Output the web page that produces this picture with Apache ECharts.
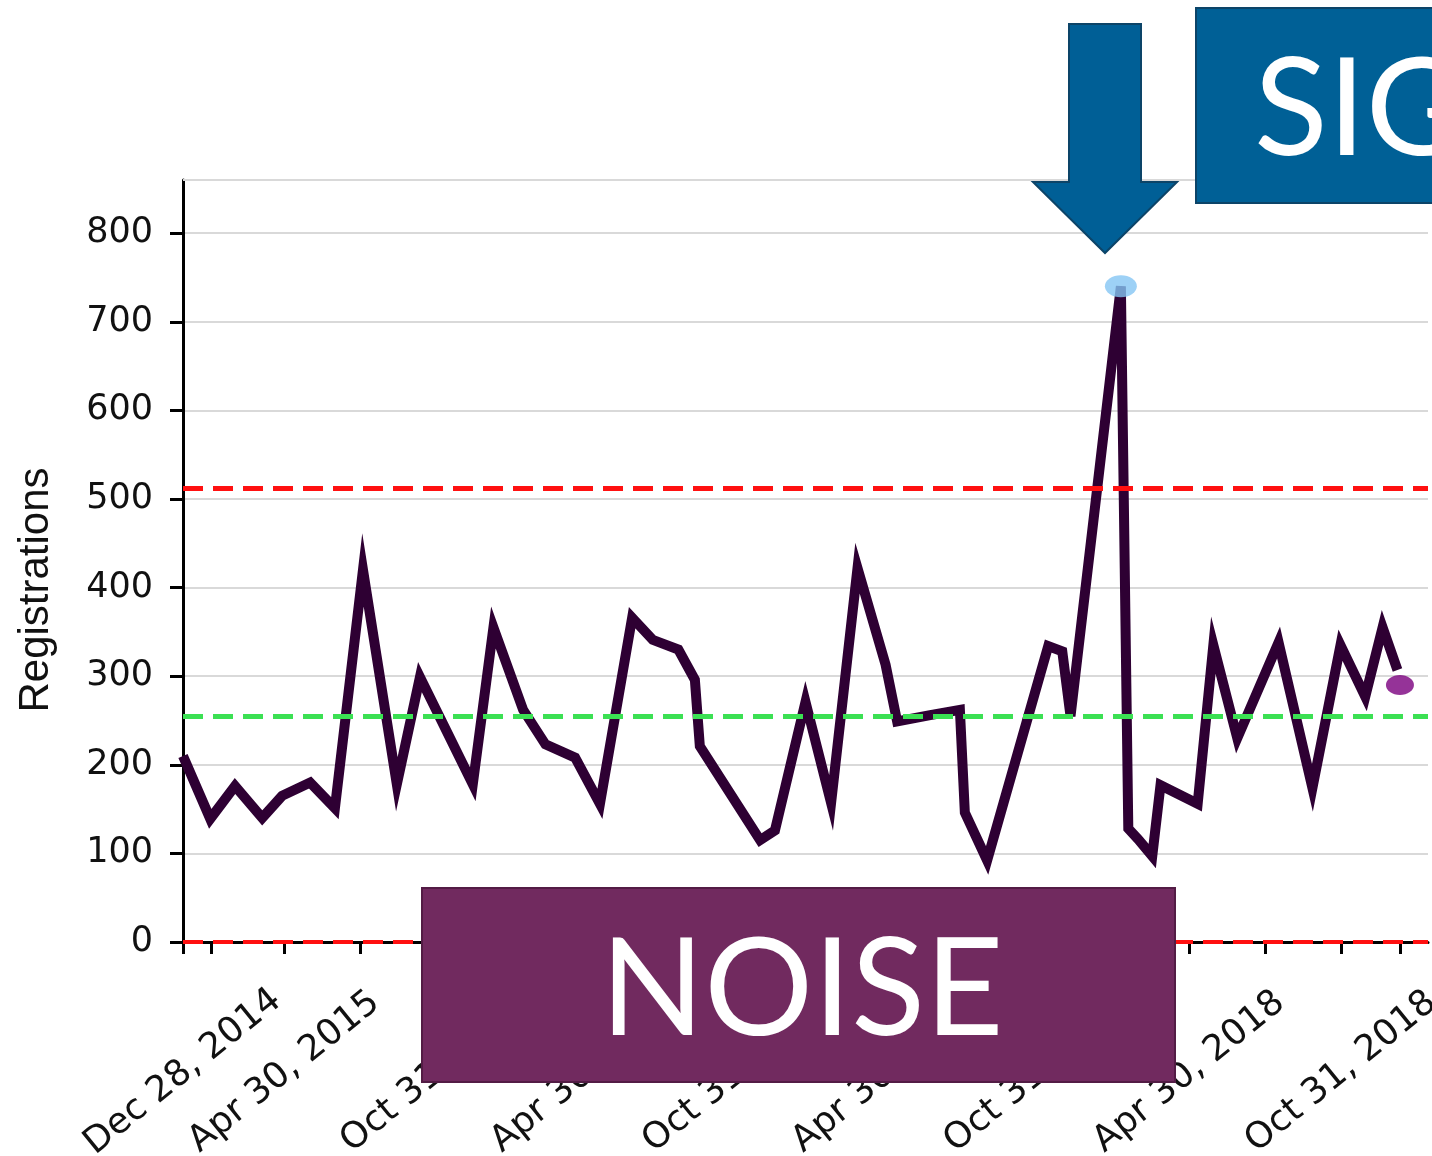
<!DOCTYPE html>
<html>
<head>
<meta charset="utf-8">
<title>Registrations control chart</title>
<script src="https://cdn.jsdelivr.net/npm/echarts@6/dist/echarts.min.js"></script>
<style>
  html, body { margin: 0; padding: 0; background: #ffffff; }
  #chart { width: 1432px; height: 1156px; }
</style>
</head>
<body>
<div id="chart"></div>
<script>
// Registration counts per reporting date
const dates = [
  '2014-12-28', '2015-01-30', '2015-03-01', '2015-04-03', '2015-04-27', '2015-05-31',
  '2015-06-30', '2015-08-03', '2015-09-13', '2015-10-11', '2015-12-14', '2016-01-08',
  '2016-02-13', '2016-03-11', '2016-04-16', '2016-05-16', '2016-06-24', '2016-07-19',
  '2016-08-19', '2016-09-08', '2016-09-14', '2016-11-26', '2016-12-14', '2017-01-20',
  '2017-02-20', '2017-03-24', '2017-04-27', '2017-05-11', '2017-06-20', '2017-07-26',
  '2017-08-01', '2017-08-28', '2017-11-10', '2017-11-27', '2017-12-07', '2018-02-06',
  '2018-02-15', '2018-02-27', '2018-03-16', '2018-03-26', '2018-05-10', '2018-05-29',
  '2018-06-27', '2018-08-16', '2018-09-26', '2018-10-30', '2018-11-29', '2018-12-20',
  '2019-01-07'
];
const registrations = [
  210, 139, 176, 140, 165, 180,
  151, 420, 178, 299, 178, 355,
  262, 223, 208, 156, 366, 341,
  330, 296, 221, 115, 126, 271,
  157, 422, 313, 249, 256, 262,
  146, 92, 334, 328, 255, 740,
  128, 116, 97, 177, 156, 335,
  230, 338, 174, 335, 277, 355,
  307
];

// Control limits
const centerLine = 255;
const upperLimit = 512;
const lowerLimit = 0;

// Latest reading
const latestDate = '2019-01-10';
const latestValue = 290;

// Axis ticks and labels
const xTickDates = [
  '2014-12-28', '2015-01-31', '2015-04-30', '2015-07-31', '2015-10-31',
  '2016-01-31', '2016-04-30', '2016-07-31', '2016-10-31',
  '2017-01-31', '2017-04-30', '2017-07-31', '2017-10-31',
  '2018-01-31', '2018-04-30', '2018-07-31', '2018-10-31', '2019-01-10'
];
const xLabelDates = [
  '2014-12-28', '2015-04-30', '2015-10-31', '2016-04-30', '2016-10-31',
  '2017-04-30', '2017-10-31', '2018-04-30', '2018-10-31'
];
const xRange = ['2014-12-28', '2019-02-13'];
const yTicks = [0, 100, 200, 300, 400, 500, 600, 700, 800];
const yMax = 860;

const MONTHS = ['Jan', 'Feb', 'Mar', 'Apr', 'May', 'Jun', 'Jul', 'Aug', 'Sep', 'Oct', 'Nov', 'Dec'];

function ts(s) {
  const p = s.split('-').map(Number);
  return new Date(p[0], p[1] - 1, p[2]).getTime();
}
function fmtDate(v) {
  const d = new Date(v);
  return MONTHS[d.getMonth()] + ' ' + d.getDate() + ', ' + d.getFullYear();
}

const lineData = dates.map((d, i) => [ts(d), registrations[i]]);
const signalData = lineData.filter(p => p[1] > upperLimit || p[1] < lowerLimit);

const chart = echarts.init(document.getElementById('chart'), null, { renderer: 'canvas' });

const limitLine = (value, color, width) => ({
  yAxis: value,
  lineStyle: { color: color, width: width, type: [20, 10] }
});

chart.setOption({
  animation: false,
  backgroundColor: '#ffffff',
  grid: { left: 183, right: 4, top: 180, bottom: 214, containLabel: false, outerBoundsMode: 'none' },
  xAxis: {
    type: 'value',
    min: ts(xRange[0]),
    max: ts(xRange[1]),
    axisLine: { show: true, onZero: false, lineStyle: { color: '#000000', width: 3 } },
    axisTick: {
      show: true,
      customValues: xTickDates.map(ts),
      length: 12,
      lineStyle: { color: '#000000', width: 3 }
    },
    axisLabel: {
      customValues: xLabelDates.map(ts),
      formatter: fmtDate,
      rotate: 39,
      align: 'center',
      verticalAlign: 'middle',
      margin: 130,
      hideOverlap: false,
      fontSize: 36,
      fontFamily: 'DejaVu Sans',
      color: '#111111'
    },
    splitLine: { show: false }
  },
  yAxis: {
    type: 'value',
    min: 0,
    max: yMax,
    interval: 100,
    name: 'Registrations',
    nameLocation: 'middle',
    nameGap: 126,
    nameTextStyle: {
      fontSize: 42,
      fontFamily: 'Liberation Sans',
      color: '#111111',
      padding: [0, 58, 0, 0]
    },
    axisLine: { show: true, lineStyle: { color: '#000000', width: 3 } },
    axisTick: {
      show: true,
      customValues: yTicks,
      length: 13,
      lineStyle: { color: '#000000', width: 3 }
    },
    axisLabel: {
      customValues: yTicks,
      margin: 30,
      fontSize: 35,
      fontFamily: 'DejaVu Sans',
      color: '#111111'
    },
    splitLine: { show: true, lineStyle: { color: '#D9D9D9', width: 2 } }
  },
  series: [
    {
      name: 'Registrations',
      type: 'line',
      data: lineData,
      showSymbol: false,
      symbol: 'none',
      lineStyle: { color: '#2E0033', width: 10, join: 'miter', cap: 'butt', miterLimit: 7.6 },
      z: 2,
      markLine: {
        silent: true,
        symbol: ['none', 'none'],
        label: { show: false },
        z: 5,
        data: [
          limitLine(upperLimit, '#FF1010', 5),
          limitLine(centerLine, '#3BE053', 5),
          limitLine(lowerLimit, '#FF1010', 4),
          { yAxis: yMax, lineStyle: { color: '#D9D9D9', width: 2, type: 'solid' } }
        ]
      }
    },
    {
      name: 'Signal',
      type: 'scatter',
      data: signalData,
      symbol: 'circle',
      symbolSize: [32, 22],
      itemStyle: { color: '#84C6F4' },
      z: 4
    },
    {
      name: 'Latest',
      type: 'scatter',
      data: [[ts(latestDate), latestValue]],
      symbol: 'circle',
      symbolSize: [28, 20],
      itemStyle: { color: '#7A007E' },
      z: 4
    }
  ],
  graphic: [
    {
      type: 'rect',
      z: 100,
      shape: { x: 422, y: 888, width: 753, height: 194 },
      style: { fill: '#712A5F', stroke: '#531C45', lineWidth: 2 }
    },
    {
      type: 'text',
      z: 101,
      x: 802,
      y: 991,
      style: {
        text: 'NOISE',
        fill: '#ffffff',
        fontSize: 136,
        fontFamily: 'Lato',
        align: 'center',
        verticalAlign: 'middle'
      }
    },
    {
      type: 'polygon',
      z: 100,
      shape: {
        points: [[1069, 24], [1141, 24], [1141, 182], [1177, 182], [1105, 253], [1033, 182], [1069, 182]]
      },
      style: { fill: '#005F96', stroke: '#0C4468', lineWidth: 2 }
    },
    {
      type: 'rect',
      z: 100,
      shape: { x: 1196, y: 8, width: 280, height: 195 },
      style: { fill: '#006096', stroke: '#0C4468', lineWidth: 2 }
    },
    {
      type: 'text',
      z: 101,
      x: 1254,
      y: 111,
      style: {
        text: 'SIGNAL',
        fill: '#ffffff',
        fontSize: 136,
        fontFamily: 'Lato',
        align: 'left',
        verticalAlign: 'middle'
      }
    }
  ]
});
</script>
</body>
</html>
